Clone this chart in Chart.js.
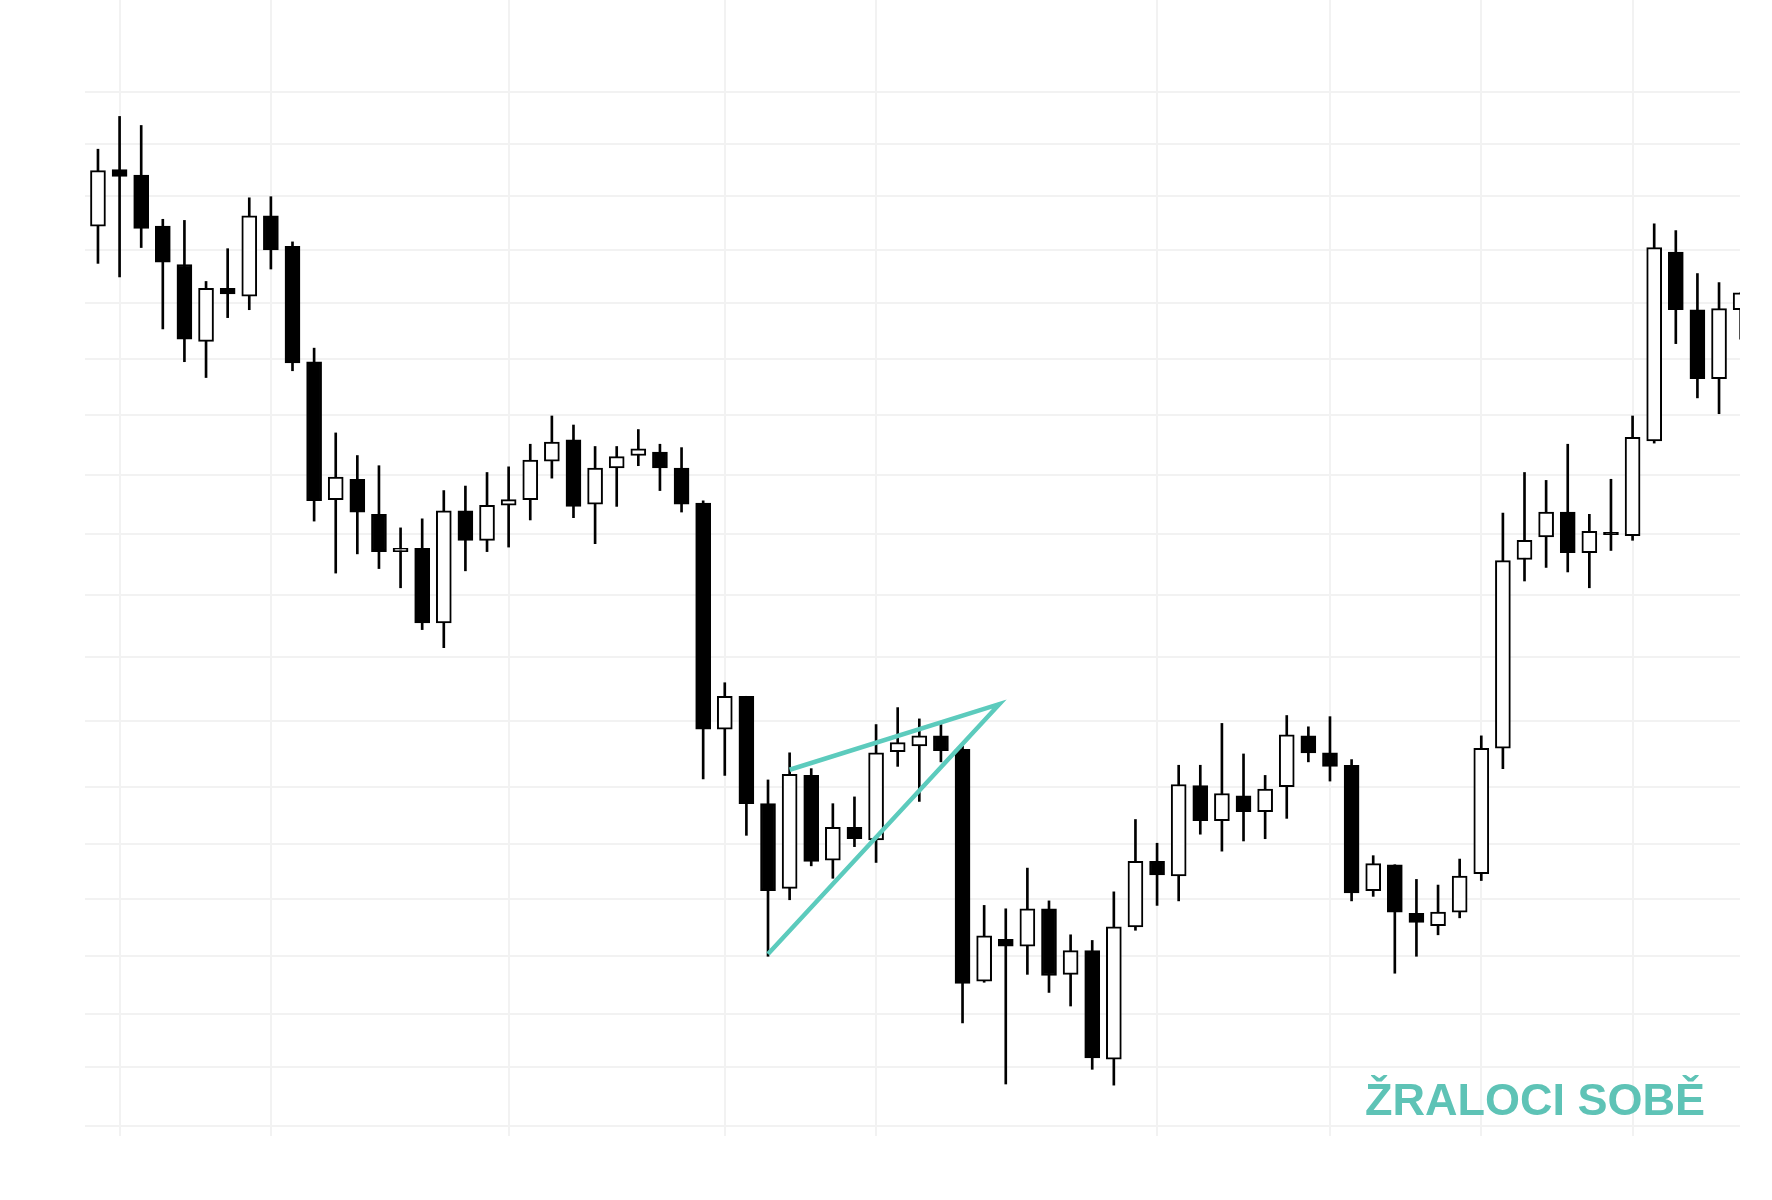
<!DOCTYPE html>
<html>
<head>
<meta charset="utf-8">
<title>Svíčkový graf</title>
<script src="https://cdn.jsdelivr.net/npm/chart.js@4.4.1/dist/chart.umd.min.js"></script>
<style>
  html, body { margin: 0; padding: 0; background: #fff; }
  #wrap { position: relative; width: 1772px; height: 1200px; }
  #logo {
    position: absolute; left: 1365px; top: 1077px;
    font-family: "Liberation Sans", Arial, sans-serif; font-weight: bold;
    font-size: 45px; line-height: 45px; color: #5ec3b6; white-space: nowrap;
  }
</style>
</head>
<body>
<div id="wrap">
  <canvas id="graf"></canvas>
  <div id="logo">ŽRALOCI SOBĚ</div>
</div>
<script>
// svíčky (OHLC), čteno z obrázku
const open  = [900,950,945,900,866,798,845,838,909,882,780,658,676,645,612,615,549,648,622,653,658,692,711,654,686,697,700,686,655,455,484,389,314,414,339,368,357,435,440,449,437,232,269,263,296,238,259,163,280,338,325,405,374,396,382,404,449,434,423,312,335,292,281,293,327,438,605,625,647,611,629,626,710,877,826,765,826];
const high  = [968,997,989,906,905,851,880,925,926,886,792,717,697,688,633,641,666,670,682,687,707,732,724,705,705,720,707,704,657,496,484,410,434,420,389,395,459,474,464,459,440,299,296,332,303,273,268,311,375,354,423,423,460,433,414,467,457,466,428,343,335,322,317,340,449,646,682,675,707,645,676,732,902,896,858,850,841];
const low   = [867,855,881,809,780,766,819,826,862,772,639,593,610,597,580,543,527,595,612,616,640,677,642,619,652,688,666,647,411,414,361,254,304,334,323,351,337,422,391,426,195,231,141,238,222,210,154,140,277,299,303,362,347,356,358,376,426,409,303,307,239,254,273,288,321,420,586,598,594,580,613,622,708,796,748,734,800];
const close = [949,944,898,868,800,845,840,909,879,779,657,678,647,612,615,549,648,622,653,658,693,709,652,686,696,703,686,654,455,484,389,312,415,338,368,358,434,443,449,436,230,272,263,296,237,259,164,280,338,326,406,374,398,382,402,450,434,422,310,336,293,284,293,325,438,604,622,647,611,630,627,713,881,826,765,827,841];

// úrovně mřížky a svislé čáry (index svíčky)
const gridLevels = [1019,973,927,879,832,782,733,680,628,574,519,462,404,353,305,254,203,156,104];
const gridDays = [1,8,19,29,36,49,57,64,71];

// klín (trojúhelník) v tyrkysové
const wedge = [
  { x: 31, y: 256 },
  { x: 41.7, y: 477 },
  { x: 32, y: 419 }
];

const bodies = open.map((o, i) => ({ x: i, y: [o, close[i]] }));
const wicks = low.map((l, i) => ({ x: i, y: [l, high[i]] }));
const fills = open.map((o, i) => close[i] >= o ? "#ffffff" : "#000000");

new Chart(document.getElementById("graf"), {
  type: "bar",
  data: {
    datasets: [
      {
        type: "line",
        data: wedge,
        borderColor: "#5ccbbd",
        borderWidth: 4.5,
        pointRadius: 0,
        fill: false,
        tension: 0,
        order: 0
      },
      {
        data: bodies,
        backgroundColor: fills,
        borderColor: "#000",
        borderWidth: 2,
        borderSkipped: false,
        barThickness: 15,
        grouped: false,
        order: 1
      },
      {
        data: wicks,
        backgroundColor: "#000",
        borderWidth: 0,
        barThickness: 2,
        grouped: false,
        order: 2
      }
    ]
  },
  options: {
    responsive: true,
    maintainAspectRatio: false,
    devicePixelRatio: 1,
    animation: false,
    layout: { padding: { left: 85, right: 32, top: 0, bottom: 64 } },
    plugins: { legend: { display: false }, tooltip: { enabled: false } },
    scales: {
      x: {
        type: "linear",
        offset: false,
        min: -0.6,
        max: 75.97,
        afterBuildTicks: s => { s.ticks = gridDays.map(v => ({ value: v })); },
        ticks: { display: false },
        grid: { color: "#f2f2f2", lineWidth: 2, drawTicks: false, offset: false },
        border: { display: false }
      },
      y: {
        min: 95,
        max: 1100,
        afterBuildTicks: s => { s.ticks = gridLevels.map(v => ({ value: v })); },
        ticks: { display: false },
        grid: { color: "#f2f2f2", lineWidth: 2, drawTicks: false },
        border: { display: false }
      }
    }
  }
});
</script>
</body>
</html>
